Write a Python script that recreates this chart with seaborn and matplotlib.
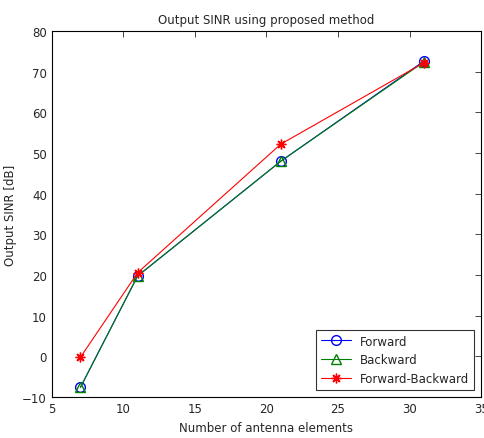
import seaborn as sns
import matplotlib.pyplot as plt
import pandas as pd

sns.set_theme(style="white")
plt.rcParams['font.family'] = ['DejaVu Sans']
plt.rcParams['xtick.direction'] = 'in'
plt.rcParams['ytick.direction'] = 'in'

elements = [7, 11, 21, 31]
forward = [-7.6, 19.8, 48.0, 72.6]
backward = [-7.6, 19.8, 48.0, 72.4]
forward_backward = [-0.2, 20.6, 52.2, 72.2]

df = pd.DataFrame({
    'elements': elements * 3,
    'sinr': forward + backward + forward_backward,
    'method': ['Forward'] * 4 + ['Backward'] * 4 + ['Forward-Backward'] * 4,
})

fig = plt.figure(figsize=(4.84, 4.39), dpi=100)
ax = fig.add_axes([0.107, 0.093, 0.887, 0.834])

palette = {'Forward': 'blue', 'Backward': 'green', 'Forward-Backward': 'red'}
markers = {'Forward': 'o', 'Backward': '^', 'Forward-Backward': (8, 2, 0)}
for name in ['Forward', 'Backward', 'Forward-Backward']:
    sub = df[df['method'] == name]
    sns.lineplot(data=sub, x='elements', y='sinr', ax=ax, color=palette[name],
                 marker=markers[name], markersize=7, markerfacecolor='none',
                 markeredgecolor=palette[name], markeredgewidth=1.0,
                 linewidth=0.8, label=name)

ax.set_xlim(5, 35)
ax.set_ylim(-10, 80)
ax.set_xticks(range(5, 36, 5))
ax.set_yticks(range(-10, 81, 10))
ax.tick_params(labelsize=8.5, length=4, top=True, right=True, width=0.6)
for s in ax.spines.values():
    s.set_color('black')
    s.set_linewidth(0.8)
ax.set_title('Output SINR using proposed method', fontsize=8.5)
ax.set_xlabel('Number of antenna elements', fontsize=8.5)
ax.set_ylabel('Output SINR [dB]', fontsize=8.5)
leg = ax.legend(loc='lower right', fontsize=8.5, frameon=True, fancybox=False,
                edgecolor='black', borderaxespad=0.6, handlelength=2.5)
leg.get_frame().set_linewidth(0.8)

fig.savefig('out.png', dpi=100)
